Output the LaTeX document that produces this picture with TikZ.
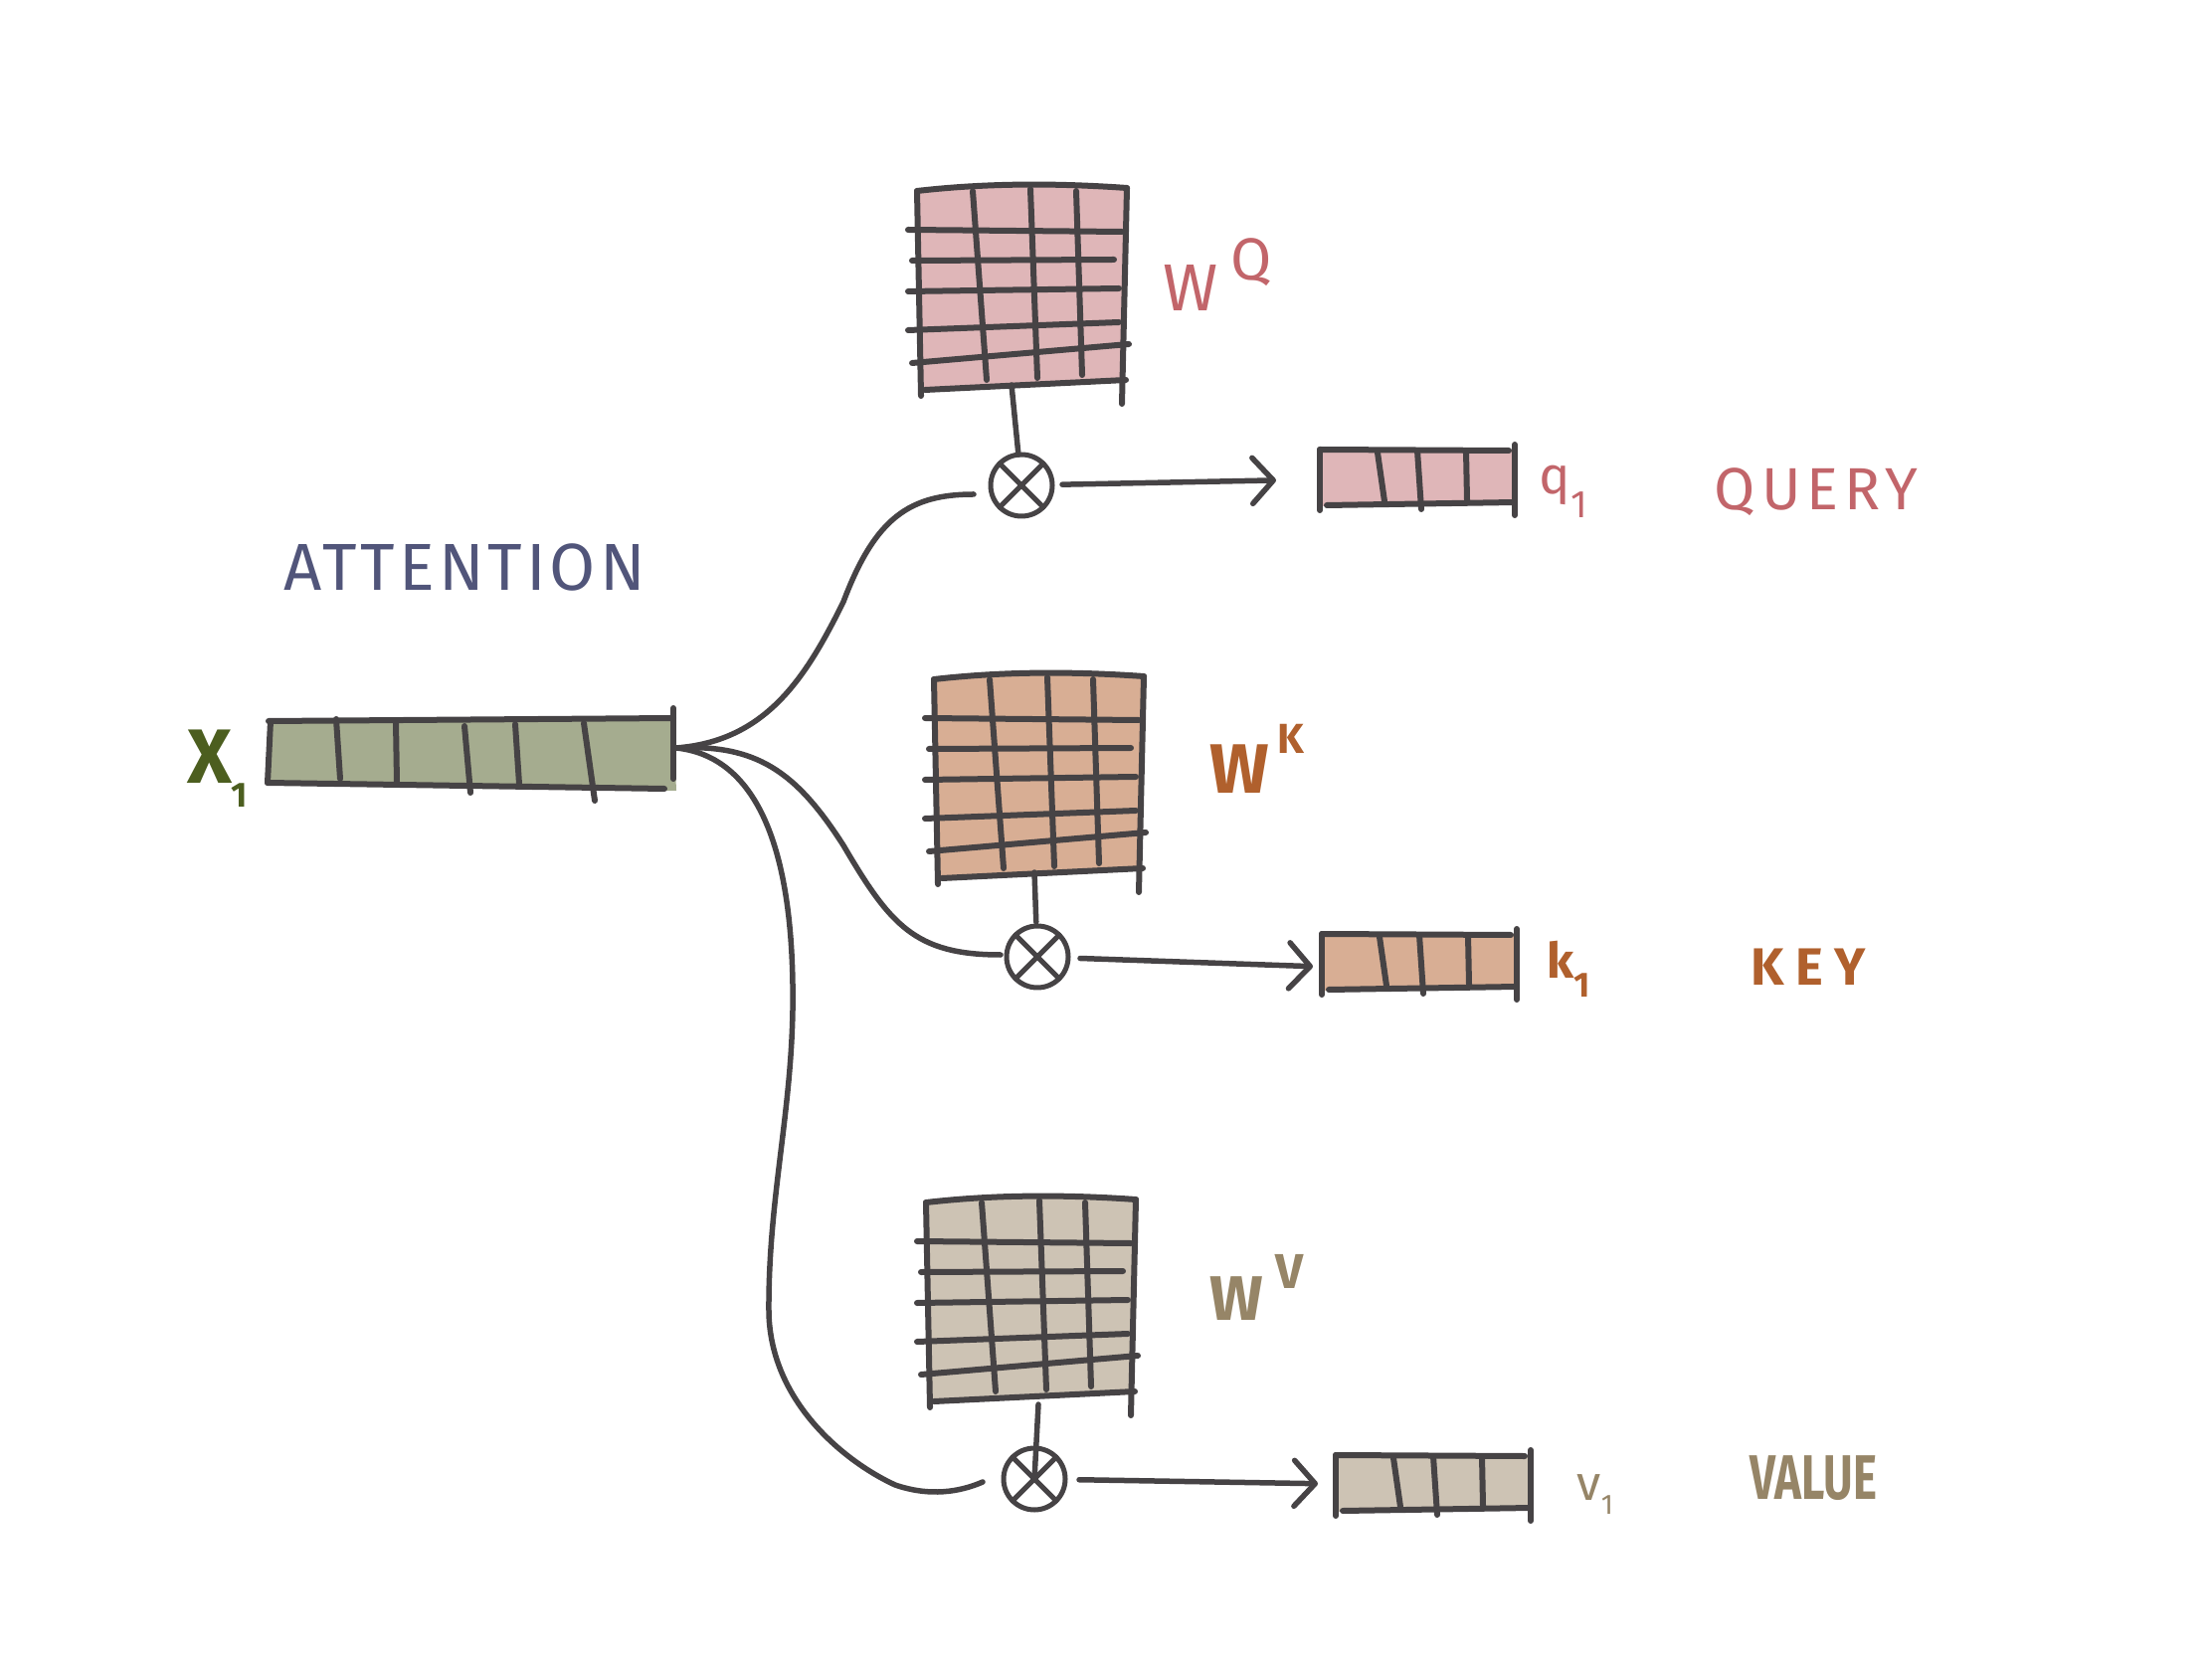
\documentclass[tikz,border=0pt]{standalone}
\usepackage{fontspec}
\setmainfont{Fira Sans}
\usetikzlibrary{arrows.meta}
\definecolor{ink}{HTML}{464345}
\definecolor{xfill}{HTML}{A5AC8F}
\definecolor{qfill}{HTML}{DFB6B8}
\definecolor{kfill}{HTML}{D8AE94}
\definecolor{vfill}{HTML}{CDC3B4}
\definecolor{attncol}{HTML}{51557A}
\definecolor{xcol}{HTML}{4C5E1F}
\definecolor{qcol}{HTML}{C2656A}
\definecolor{kcol}{HTML}{B0602D}
\definecolor{vcol}{HTML}{968567}
\newcommand{\drawweight}[2]{%
\begin{scope}[shift={#1}]
  \fill[#2] (0,2) .. controls (70,-6) and (140,-6) .. (211,-1) -- (207,194) -- (6,204) -- cycle;
  \draw[inkline] (0,2) .. controls (70,-6) and (140,-6) .. (211,-1);
  \draw[inkline] (0,2) -- (4,208);
  \draw[inkline] (211,-1) -- (206,216);
  \draw[inkline] (8,202) -- (210,192);
  \draw[inkline] (-9,41) -- (206,43);
  \draw[inkline] (-5,72) -- (198,71);
  \draw[inkline] (-9,103) -- (203,100);
  \draw[inkline] (-9,142) -- (203,134);
  \draw[inkline] (-5,175) -- (213,156);
  \draw[inkline] (56,2) -- (70,192);
  \draw[inkline] (114,0) -- (121,190);
  \draw[inkline] (160,2) -- (166,187);
\end{scope}}
\newcommand{\drawvecfour}[2]{%
\begin{scope}[shift={#1}]
  \fill[#2] (0,0) -- (194,0) -- (195,54) -- (2,57) -- cycle;
  \draw[inkline] (0,0) -- (0,61);
  \draw[inkline] (0,0) -- (190,1);
  \draw[inkline] (196,-5) -- (196,66);
  \draw[inkline] (7,56) -- (196,53);
  \draw[inkline] (58,3) -- (65,52);
  \draw[inkline] (98,1) -- (102,60);
  \draw[inkline] (147,1) -- (148,51);
\end{scope}}
\begin{document}
\begin{tikzpicture}[x=0.1mm,y=-0.1mm,line cap=round,line join=round,
  inkline/.style={draw=ink,line width=0.6mm},
  conn/.style={draw=ink,line width=0.55mm},
  arr/.style={conn,-{Straight Barb[length=2.1mm,width=4.6mm,round]}},
  otimes/.style={circle,draw=ink,line width=0.5mm,minimum size=6.2mm,inner sep=0pt,outer sep=0pt},
  lab/.style={inner sep=0pt}]
\useasboundingbox (0,0) rectangle (2224,1668);

% input vector x1
\fill[xfill] (270,725) -- (677,722) -- (680,795) -- (270,787) -- cycle;
\draw[inkline] (270,725) -- (677,722);
\draw[inkline] (272,725) -- (269,787);
\draw[inkline] (269,787) -- (668,793);
\draw[inkline] (677,712) -- (677,783);
\draw[inkline] (338,723) -- (342,783);
\draw[inkline] (398,725) -- (399,787);
\draw[inkline] (467,730) -- (473,797);
\draw[inkline] (518,728) -- (522,788);
\draw[inkline] (587,727) -- (598,805);
\coordinate (x1out) at (680,752);

% weight matrices
\drawweight{(922,190)}{qfill}
\drawweight{(939,681)}{kfill}
\drawweight{(931,1207)}{vfill}
\coordinate (sq) at (1017,387);
\coordinate (sk) at (1040,877);
\coordinate (sv) at (1044,1412);

% multiplication nodes
\node[otimes] (mq) at (1027,488) {};
\node[otimes] (mk) at (1043,962) {};
\node[otimes] (mv) at (1040,1487) {};
\foreach \m in {mq,mk,mv}{
  \draw[conn,line width=0.5mm] (\m.north east) -- (\m.south west);
  \draw[conn,line width=0.5mm] (\m.north west) -- (\m.south east);
}

% output vectors
\drawvecfour{(1327,452)}{qfill}
\drawvecfour{(1329,939)}{kfill}
\drawvecfour{(1343,1463)}{vfill}
\coordinate (q1in) at (1327,482);
\coordinate (k1in) at (1329,972);
\coordinate (v1in) at (1343,1492);

% stems
\draw[conn] (sq) -- (mq);
\draw[conn,shorten >=0.4mm] (sk) -- (mk);
\draw[conn] (sv) -- ([yshift=-9]mv.north);

% curves from x1
\draw[conn] (x1out) .. controls (770,745) and (810,682) .. (848,605)
  .. controls (880,520) and (915,497) .. ([shift={(-17,9)}]mq.west);
\draw[conn] (x1out) .. controls (760,748) and (800,775) .. (848,850)
  .. controls (895,930) and (920,960) .. ([shift={(-6,-2)}]mk.west);
\draw[conn] (x1out) .. controls (755,760) and (795,840) .. (797,990)
  .. controls (799,1110) and (772,1200) .. (773,1320)
  .. controls (775,1410) and (850,1470) .. (900,1493)
  .. controls (935,1505) and (965,1500) .. ([shift={(-21,3)}]mv.west);

% arrows to outputs
\draw[arr,shorten <=1mm,shorten >=4.4mm] (mq) -- (q1in);
\draw[arr,shorten <=1.2mm,shorten >=0.9mm] (mk) -- (k1in);
\draw[arr,shorten <=1.4mm,shorten >=1.8mm] (mv) -- (v1in);

% labels
\node[lab,text=attncol,font=\fontsize{19}{19}\selectfont\addfontfeatures{LetterSpace=6}] (attn) at (467,570) {ATTENTION};
\node[lab,text=xcol,anchor=base east,font=\bfseries\fontsize{22}{22}\selectfont] (x1lab) at (250,788) {X\raisebox{-0.3em}{\fontsize{10}{10}\selectfont 1}};

\node[lab,text=qcol,anchor=base,font=\fontsize{19}{19}\selectfont] (wq) at (1197,313) {W};
\node[lab,text=qcol,anchor=base,font=\fontsize{17}{17}\selectfont] (wqs) at (1258,282) {Q};
\node[lab,text=kcol,anchor=base,font=\bfseries\fontsize{20}{20}\selectfont] (wk) at (1246,797) {W};
\node[lab,text=kcol,anchor=base,font=\bfseries\fontsize{12}{12}\selectfont] (wks) at (1298,758) {K};
\node[lab,text=vcol,anchor=base,font=\bfseries\fontsize{18}{18}\selectfont] (wv) at (1243,1327) {W};
\node[lab,text=vcol,anchor=base,font=\bfseries\fontsize{14}{14}\selectfont] (wvs) at (1297,1295) {V};

\node[lab,text=qcol,anchor=base west,font=\fontsize{15}{15}\selectfont] (q1lab) at (1547,497) {q\raisebox{-0.45em}{\fontsize{11}{11}\selectfont 1}};
\node[lab,text=kcol,anchor=base west,font=\bfseries\fontsize{14}{14}\selectfont] (k1lab) at (1555,983) {k\raisebox{-0.4em}{\fontsize{10}{10}\selectfont 1}};
\node[lab,text=vcol,anchor=base west,font=\fontsize{14}{14}\selectfont] (v1lab) at (1585,1508) {v\raisebox{-0.3em}{\fontsize{8}{8}\selectfont 1}};

\node[lab,text=qcol,anchor=base,font=\fontsize{17}{17}\selectfont\addfontfeatures{LetterSpace=10}] (query) at (1826,513) {QUERY};
\node[lab,text=kcol,anchor=base,font=\bfseries\fontsize{15}{15}\selectfont\addfontfeatures{LetterSpace=22}] (key) at (1818,990) {KEY};
\node[lab,text=vcol,anchor=base,font=\bfseries\fontsize{18}{18}\selectfont] (value) at (1823,1507) {\scalebox{0.72}[1]{VALUE}};
\end{tikzpicture}
\end{document}
